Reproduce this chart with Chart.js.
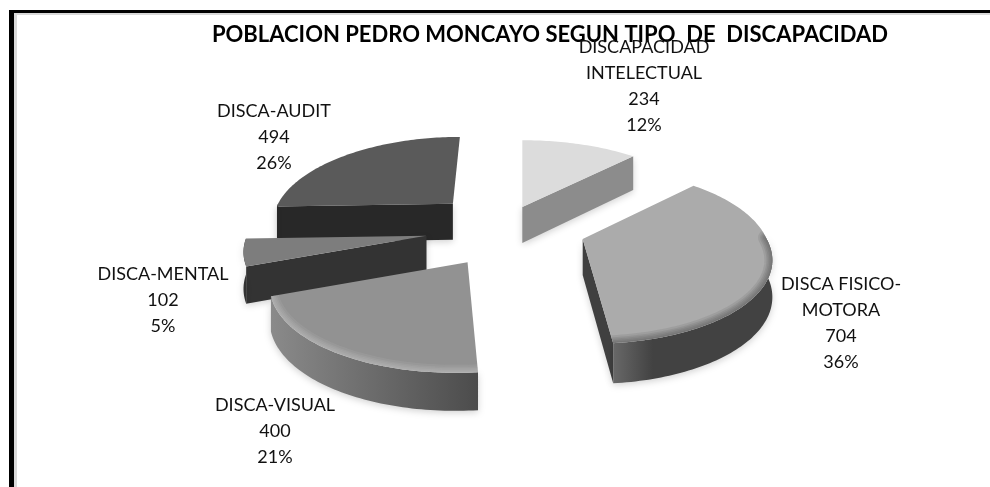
<!DOCTYPE html>
<html>
<head>
<meta charset="utf-8">
<script src="https://cdn.jsdelivr.net/npm/chart.js@4/dist/chart.umd.js"></script>
<style>
  html, body { margin: 0; background: #fff; }
  #frame { position: absolute; left: 9px; top: 10px; width: 981px; height: 477px;
           border-left: 5px solid #000; border-top: 3px solid #000; box-sizing: border-box; }
  #frame div { position: absolute; left: 0; top: 0; right: 0; bottom: 0;
               border-left: 3px solid #d9d9d9; border-top: 2px solid #d9d9d9; }
  canvas { position: absolute; left: 0; top: 0; filter: blur(0.35px); }
</style>
</head>
<body>
<div id="frame"><div></div></div>
<canvas id="chart" width="990" height="487"></canvas>
<script>
const categories = [["DISCAPACIDAD", "INTELECTUAL"], ["DISCA FISICO-", "MOTORA"], ["DISCA-VISUAL"], ["DISCA-MENTAL"], ["DISCA-AUDIT"]];
const values = [234, 704, 400, 102, 494];
const percents = ["12%", "36%", "21%", "5%", "26%"];
const explode = [50, 81, 81, 74, 71];

const topColors = ["#dcdcdc", "#ababab", "#929292", "#7d7d7d", "#5a5a5a"];
const wallColors = ["#8c8c8c", "#404040", "#6a6a6a", "#333333", "#282828"];
const curveColors = [["#8c8c8c", "#8c8c8c"], ["#686868", "#424242"], ["#8a8a8a", "#4c4c4c"], ["#333333", "#333333"], ["#282828", "#282828"]];
const rimColors = ["rgba(0,0,0,0)", "rgba(50,50,50,0.10)", "rgba(225,225,225,0.09)", "rgba(0,0,0,0)", "rgba(0,0,0,0)"];
const paintOrder = [4, 0, 3, 1, 2];
const labelSpots = [[644, 47], [841, 284], [275, 405], [163, 274], [274, 111]];

// flat pie -> tilted view with some perspective
const view = { cx: 503, cy: 228, a: 184, s: 80, k: 0.198 };
// per slice fine tuning of the tilt, the 3D look of the original is not quite regular
const tweaks = [
  { sx: 1, sy: 1, dx: 0, dy: 0, lean: 0, back: 0, depth: 36 },
  { sx: 1, sy: 1.05, dx: 0, dy: -1, lean: 9, back: 0, depth: 36 },
  { sx: 1.04, sy: 1.11, dx: 9, dy: 3, lean: -12, back: 0, depth: 34 },
  { sx: 0.975, sy: 1, dx: -1, dy: 1, lean: 0, back: 0, depth: 36 },
  { sx: 0.95, sy: 1, dx: 3, dy: -2, lean: 0, back: 7, depth: 36 },
];

// u,v on the unit circle, ox,oy the slice's pull-out from the centre
function project(u, v, ox, oy, tw, low) {
  const w = 1 - view.k * v;
  const lean = v > 0 ? tw.lean * v : -tw.back * v;
  return [
    view.cx + tw.dx + view.a * (ox + tw.sx * u / w) + lean,
    view.cy + tw.dy + view.s * (oy + tw.sy * v / w) + (low ? tw.depth / Math.sqrt(w) : 0),
  ];
}

function tracePath(ctx, pts) {
  ctx.beginPath();
  pts.forEach((p, i) => i ? ctx.lineTo(p[0], p[1]) : ctx.moveTo(p[0], p[1]));
  ctx.closePath();
}

function drawSlice(ctx, arc, i) {
  const start = arc.startAngle, end = arc.endAngle;
  const mid = (start + end) / 2;
  const off = arc.options.offset / arc.outerRadius;
  const ox = Math.cos(mid) * off, oy = Math.sin(mid) * off;
  const rim = [];
  const steps = Math.ceil((end - start) / 0.02);
  for (let n = 0; n <= steps; n++) {
    const t = start + (end - start) * n / steps;
    rim.push([Math.cos(t), Math.sin(t), t]);
  }
  const first = rim[0], last = rim[rim.length - 1];
  const pt = (p, low) => project(p[0], p[1], ox, oy, tweaks[i], low);

  ctx.save();
  ctx.shadowColor = "rgba(0,0,0,0.18)";
  ctx.shadowBlur = 7;
  ctx.shadowOffsetY = 2;
  if (Math.sin(start - Math.PI / 2) > 0.001) {
    ctx.fillStyle = wallColors[i];
    tracePath(ctx, [pt([0, 0]), pt(first), pt(first, true), pt([0, 0], true)]);
    ctx.fill();
  }
  if (Math.sin(end + Math.PI / 2) > 0.001) {
    ctx.fillStyle = wallColors[i];
    tracePath(ctx, [pt([0, 0]), pt(last), pt(last, true), pt([0, 0], true)]);
    ctx.fill();
  }
  const front = rim.filter(p => Math.sin(p[2]) > -0.02);
  if (front.length > 1) {
    const xs = front.map(p => pt(p)[0]);
    const grad = ctx.createLinearGradient(Math.min(...xs), 0, Math.max(...xs), 0);
    const flip = i === 2; // visual slice runs lighter on the left
    grad.addColorStop(0, curveColors[i][0]);
    grad.addColorStop(flip ? 1 : 0.25, curveColors[i][1]);
    ctx.fillStyle = grad;
    const up = front.map(p => pt(p));
    const down = front.slice().reverse().map(p => pt(p, true));
    tracePath(ctx, up.concat(down));
    ctx.fill();
  }
  ctx.restore();

  const face = [pt([0, 0])].concat(rim.map(p => pt(p)));
  tracePath(ctx, face);
  ctx.fillStyle = arc.options.backgroundColor;
  ctx.fill();

  // soft bevel along the front edge
  ctx.save();
  tracePath(ctx, face);
  ctx.clip();
  ctx.strokeStyle = rimColors[i];
  ctx.lineJoin = "round";
  ctx.lineCap = "round";
  [16, 12, 9, 6, 3].forEach(width => {
    ctx.lineWidth = width;
    ctx.beginPath();
    front.forEach((p, n) => {
      const q = pt(p);
      n ? ctx.lineTo(q[0], q[1]) : ctx.moveTo(q[0], q[1]);
    });
    ctx.stroke();
  });
  ctx.restore();
}

const tiltedPie = {
  id: "tiltedPie",
  beforeDatasetDraw(chart, args) {
    const arcs = chart.getDatasetMeta(args.index).data;
    paintOrder.forEach(i => drawSlice(chart.ctx, arcs[i], i));
    return false;
  },
  afterDraw(chart) {
    const ctx = chart.ctx;
    ctx.save();
    ctx.font = "18px Lato";
    ctx.fillStyle = "#111";
    ctx.textAlign = "center";
    ctx.textBaseline = "middle";
    categories.forEach((name, i) => {
      const lines = name.concat([String(values[i]), percents[i]]);
      lines.forEach((line, n) => ctx.fillText(line, labelSpots[i][0], labelSpots[i][1] + n * 26));
    });
    ctx.restore();
  }
};

new Chart(document.getElementById("chart"), {
  type: "pie",
  data: {
    labels: categories.map(c => c.join(" ")),
    datasets: [{
      data: values,
      backgroundColor: topColors,
      borderWidth: 0,
      offset: explode,
      hoverOffset: 0,
    }],
  },
  plugins: [tiltedPie],
  options: {
    responsive: false,
    animation: false,
    layout: { padding: { left: 110 } },
    plugins: {
      legend: { display: false },
      tooltip: { enabled: false },
      title: {
        display: true,
        text: "POBLACION PEDRO MONCAYO SEGUN TIPO  DE  DISCAPACIDAD",
        color: "#000",
        font: { family: "Lato", size: 22, weight: "bold" },
        padding: { top: 22, bottom: 4 },
      },
    },
  },
});
</script>
</body>
</html>
